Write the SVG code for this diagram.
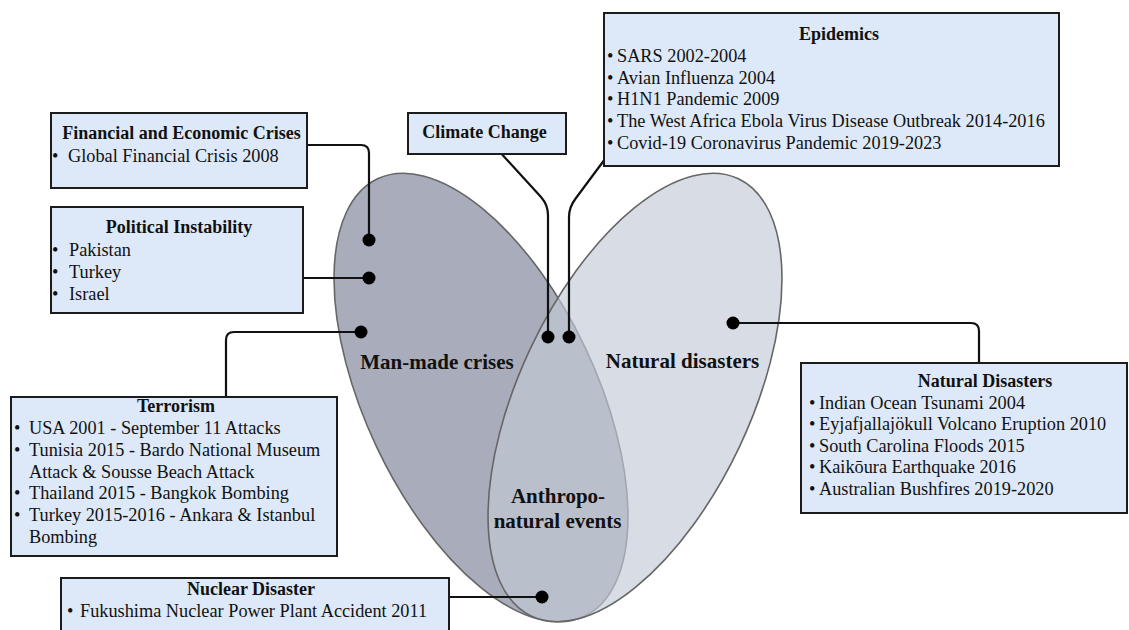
<svg xmlns="http://www.w3.org/2000/svg" width="1129" height="630" viewBox="0 0 1129 630">
  <style>
    text { font-family: "Liberation Serif", "Times New Roman", serif; fill: #111; }
    .t { font-size: 18px; font-weight: bold; text-anchor: middle; }
    .i { font-size: 18.3px; }
    .lbl { font-size: 21px; font-weight: bold; text-anchor: middle; }
    .box { fill: #dde9f8; stroke: #1c1c1c; stroke-width: 2; }
    .set { stroke: #666; stroke-width: 1.6; }
    .wire { fill: none; stroke: #111; stroke-width: 2.2; }
    .dot { fill: #000; }
  </style>

  <rect width="1129" height="630" fill="#ffffff"/>

  <!-- Venn sets -->
  <g id="sets">
    <ellipse id="man-made" class="set" cx="481" cy="397.5" rx="115.5" ry="242" fill="#a8acbb" transform="rotate(-25.3 481 397.5)"/>
    <ellipse id="natural" class="set" cx="635" cy="397.5" rx="115.5" ry="242" fill="#c3cad6" fill-opacity="0.65" transform="rotate(25.3 635 397.5)"/>
    <text class="lbl" x="437" y="369">Man-made crises</text>
    <text class="lbl" x="682.5" y="368">Natural disasters</text>
    <text class="lbl" x="558" y="503">Anthropo-</text>
    <text class="lbl" x="557.5" y="528">natural events</text>
  </g>

  <!-- Connectors -->
  <g id="connectors">
    <path class="wire" d="M300 145 H361 Q369 145 369 153 V240"/>
    <path class="wire" d="M300 278 H369"/>
    <path class="wire" d="M361 332 H234 Q226 332 226 340 V400"/>
    <path class="wire" d="M498 150 L541 197 Q548 205 548 215 V337"/>
    <path class="wire" d="M608 155 L576 198 Q569 207 569 217 V337"/>
    <path class="wire" d="M733 323 H971 Q979 323 979 331 V366"/>
    <path class="wire" d="M445 597 H542"/>
    <circle class="dot" cx="369" cy="240" r="6.5"/>
    <circle class="dot" cx="369" cy="278" r="6.5"/>
    <circle class="dot" cx="361" cy="332" r="6.5"/>
    <circle class="dot" cx="548" cy="337" r="6.5"/>
    <circle class="dot" cx="569" cy="337" r="6.5"/>
    <circle class="dot" cx="733" cy="323" r="6.5"/>
    <circle class="dot" cx="542" cy="597" r="6.5"/>
  </g>

  <g id="financial">
    <rect class="box" x="51" y="113" width="256" height="75"/>
    <text class="t" x="181.5" y="139">Financial and Economic Crises</text>
    <text class="i" x="52" y="162">•</text>
    <text class="i" x="68" y="162">Global Financial Crisis 2008</text>
  </g>

  <g id="political">
    <rect class="box" x="51" y="207" width="252" height="106"/>
    <text class="t" x="179" y="233">Political Instability</text>
    <text class="i" x="52" y="256">•</text>
    <text class="i" x="69" y="256">Pakistan</text>
    <text class="i" x="52" y="278">•</text>
    <text class="i" x="69" y="278">Turkey</text>
    <text class="i" x="52" y="300">•</text>
    <text class="i" x="69" y="300">Israel</text>
  </g>

  <g id="terrorism">
    <rect class="box" x="11" y="397" width="326" height="159"/>
    <text class="t" x="176" y="412">Terrorism</text>
    <text class="i" x="14" y="434">•</text>
    <text class="i" x="29" y="434">USA 2001 - September 11 Attacks</text>
    <text class="i" x="14" y="456">•</text>
    <text class="i" x="29" y="456">Tunisia 2015 - Bardo National Museum</text>
    <text class="i" x="29" y="477.5">Attack &amp; Sousse Beach Attack</text>
    <text class="i" x="14" y="499">•</text>
    <text class="i" x="29" y="499">Thailand 2015 - Bangkok Bombing</text>
    <text class="i" x="14" y="521">•</text>
    <text class="i" x="29" y="521">Turkey 2015-2016 - Ankara &amp; Istanbul</text>
    <text class="i" x="29" y="543">Bombing</text>
  </g>

  <g id="nuclear">
    <rect class="box" x="61" y="578" width="388" height="70"/>
    <text class="t" x="251" y="595">Nuclear Disaster</text>
    <text class="i" x="67" y="617">•</text>
    <text class="i" x="80" y="617">Fukushima Nuclear Power Plant Accident 2011</text>
  </g>

  <g id="climate">
    <rect class="box" x="408" y="113" width="158" height="41"/>
    <text class="t" x="484.5" y="138">Climate Change</text>
  </g>

  <g id="epidemics">
    <rect class="box" x="604" y="13" width="455" height="153"/>
    <text class="t" x="839" y="40">Epidemics</text>
    <text class="i" x="607" y="62">•</text>
    <text class="i" x="617" y="62">SARS 2002-2004</text>
    <text class="i" x="607" y="83.5">•</text>
    <text class="i" x="617" y="83.5">Avian Influenza 2004</text>
    <text class="i" x="607" y="105">•</text>
    <text class="i" x="617" y="105">H1N1 Pandemic 2009</text>
    <text class="i" x="607" y="127">•</text>
    <text class="i" x="617" y="127">The West Africa Ebola Virus Disease Outbreak 2014-2016</text>
    <text class="i" x="607" y="148.5">•</text>
    <text class="i" x="617" y="148.5">Covid-19 Coronavirus Pandemic 2019-2023</text>
  </g>

  <g id="natural-disasters">
    <rect class="box" x="801" y="363" width="326" height="150"/>
    <text class="t" x="985" y="387">Natural Disasters</text>
    <text class="i" x="809" y="408.5">•</text>
    <text class="i" x="819" y="408.5">Indian Ocean Tsunami 2004</text>
    <text class="i" x="809" y="430">•</text>
    <text class="i" x="819" y="430">Eyjafjallajökull Volcano Eruption 2010</text>
    <text class="i" x="809" y="451.5">•</text>
    <text class="i" x="819" y="451.5">South Carolina Floods 2015</text>
    <text class="i" x="809" y="473">•</text>
    <text class="i" x="819" y="473">Kaikōura Earthquake 2016</text>
    <text class="i" x="809" y="495">•</text>
    <text class="i" x="819" y="495">Australian Bushfires 2019-2020</text>
  </g>
</svg>
